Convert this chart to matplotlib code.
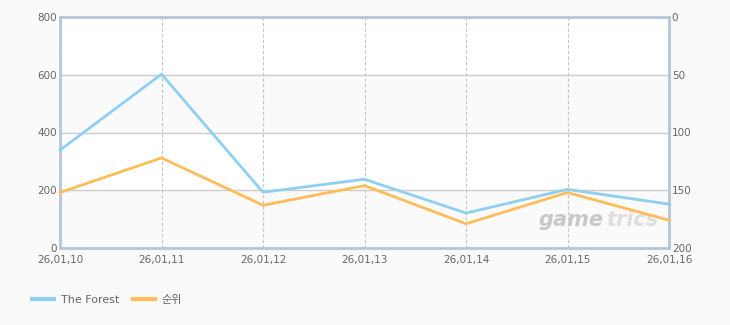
import matplotlib.pyplot as plt
from matplotlib.lines import Line2D

plt.rcParams['font.family'] = ['DejaVu Sans', 'Noto Sans CJK KR']

# data
dates = ['26,01,10', '26,01,11', '26,01,12', '26,01,13', '26,01,14', '26,01,15', '26,01,16']
players = [339, 602, 193, 238, 121, 203, 152]   # The Forest (left axis)
rank = [152, 122, 163, 146, 179, 152, 176]      # 순위 (right axis, inverted)
left_ticks = [0, 200, 400, 600, 800]
right_ticks = [0, 50, 100, 150, 200]

blue = '#8fd0f2'
orange = '#ffbd5a'
spine_col = '#b4c6d8'
text_col = '#666666'

fig = plt.figure(figsize=(7.3, 3.25), dpi=100, facecolor='#fafafa')
ax1 = fig.add_axes([60 / 730, 1 - 248 / 325, 609 / 730, 231 / 325])
ax1.set_facecolor('white')

x = list(range(len(dates)))
ax1.set_xlim(0, len(dates) - 1)
ax1.set_ylim(0, 800)

# alternating bands
for i in range(len(left_ticks) - 1):
    if i % 2 == 0:
        ax1.axhspan(left_ticks[i], left_ticks[i + 1], color='#fafafa', zorder=0)

ax1.set_yticks(left_ticks)
ax1.set_xticks(x)
ax1.set_xticklabels(dates)
ax1.grid(axis='y', color='#cccccc', linewidth=1, linestyle='-')
ax1.grid(axis='x', color='#c4c4c4', linewidth=0.8, linestyle=(0, (3, 2)))
ax1.set_axisbelow(True)
ax1.tick_params(axis='y', length=0, labelsize=7.5, colors=text_col, pad=2)
ax1.tick_params(axis='x', length=0, labelsize=7.5, colors=text_col, pad=5)

for s in ax1.spines.values():
    s.set_color(spine_col)
    s.set_linewidth(2)

ax2 = ax1.twinx()
ax2.set_ylim(200, 0)
ax2.set_yticks(right_ticks)
ax2.tick_params(length=0, labelsize=7.5, colors=text_col, pad=2)
for s in ax2.spines.values():
    s.set_visible(False)

# watermark
ax1.text(0.893, 0.08, 'game', transform=ax1.transAxes, ha='right', va='bottom',
         fontsize=15, fontweight='bold', style='italic', color='#c8c8c8', zorder=1)
ax1.text(0.897, 0.08, 'trics', transform=ax1.transAxes, ha='left', va='bottom',
         fontsize=15, fontweight='bold', style='italic', color='#dedede', zorder=1)

ax1.plot(x, players, color=blue, linewidth=2, zorder=3, clip_on=False)
ax2.plot(x, rank, color=orange, linewidth=2, zorder=3, clip_on=False)

handles = [Line2D([], [], color=blue, linewidth=3),
           Line2D([], [], color=orange, linewidth=3)]
fig.legend(handles, ['The Forest', '순위'], loc='center left', bbox_to_anchor=(22 / 730, 1 - 300 / 325),
           ncol=2, frameon=False, fontsize=8, labelcolor=text_col, handlelength=2.0,
           handletextpad=0.6, columnspacing=1.2)

fig.savefig('out.png', dpi=100, facecolor=fig.get_facecolor())
